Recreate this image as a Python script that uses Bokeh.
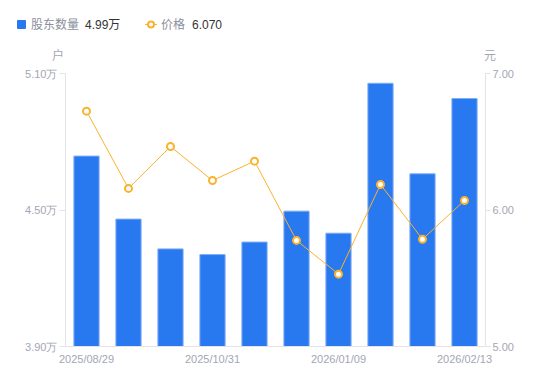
from bokeh.plotting import figure
from bokeh.layouts import column
from bokeh.models import (Range1d, LinearAxis, FixedTicker, CustomJSTickFormatter,
                          Div, ColumnDataSource)
from bokeh.embed import file_html
from bokeh.resources import INLINE

# ---- data ----
dates = ["2025/08/29", "2025/09/19", "2025/09/30", "2025/10/31", "2025/11/20",
         "2025/12/10", "2026/01/09", "2026/01/20", "2026/01/30", "2026/02/13"]
holders = [4.737, 4.460, 4.329, 4.304, 4.359, 4.495, 4.398, 5.057, 4.659, 4.990]  # 万户
price = [6.724, 6.158, 6.465, 6.216, 6.358, 5.777, 5.530, 6.187, 5.786, 6.070]      # 元
shown_idx = [0, 3, 6, 9]
left_ticks = [3.9, 4.5, 5.1]
right_ticks = [5.0, 6.0, 7.0]
series_names = ["股东数量", "价格"]
units = ["户", "元"]

BLUE = "#2878f0"
ORANGE = "#fbb22f"
TICK_COLOR = "#a3a6b5"
AXIS_COLOR = "#e3e4e8"
LEG_GRAY = "#8c8f9c"
FONT = "Liberation Sans"

src = ColumnDataSource(dict(x=list(range(len(dates))), holders=holders, price=price))

p = figure(frame_width=420, frame_height=273,
           x_range=Range1d(-0.5, len(dates) - 0.5),
           y_range=Range1d(left_ticks[0], left_ticks[-1]),
           output_backend="svg", toolbar_location=None,
           min_border_left=65, min_border_right=65, min_border_top=11, min_border_bottom=35)
p.extra_y_ranges = {"price": Range1d(right_ticks[0], right_ticks[-1])}
p.outline_line_color = None
p.xgrid.visible = False
p.ygrid.visible = False
p.background_fill_color = "white"
p.border_fill_color = "white"

p.vbar(x="x", top="holders", bottom=left_ticks[0], width=0.6, source=src,
       fill_color=BLUE, line_color="#80acf6", line_width=1)
p.line(x="x", y="price", source=src, y_range_name="price", line_color=ORANGE, line_width=1)
p.scatter(x="x", y="price", source=src, y_range_name="price", size=7,
          fill_color="white", line_color=ORANGE, line_width=2)

def style_axis(ax):
    ax.axis_line_color = AXIS_COLOR
    ax.major_tick_line_color = AXIS_COLOR
    ax.minor_tick_line_color = None
    ax.major_tick_in = 0
    ax.major_label_text_color = TICK_COLOR
    ax.major_label_text_font = FONT
    ax.major_label_text_font_size = "11px"

# left axis
ly = p.yaxis[0]
style_axis(ly)
ly.ticker = FixedTicker(ticks=left_ticks)
ly.formatter = CustomJSTickFormatter(code="return tick.toFixed(2) + '万'")
ly.major_tick_out = 6
ly.major_label_standoff = 2

# right axis
ry = LinearAxis(y_range_name="price")
style_axis(ry)
ry.ticker = FixedTicker(ticks=right_ticks)
ry.formatter = CustomJSTickFormatter(code="return tick.toFixed(2)")
ry.major_tick_out = 5
ry.major_label_standoff = 2
p.add_layout(ry, "right")

# bottom axis
bx = p.xaxis[0]
style_axis(bx)
bx.ticker = FixedTicker(ticks=shown_idx)
bx.major_label_overrides = {i: dates[i] for i in shown_idx}
bx.major_tick_out = 0
bx.major_label_standoff = 6

# ---- legend & unit header (HTML, real text) ----
ff = "font-family:'Liberation Sans','Noto Sans CJK SC',sans-serif;"
def span(left, top, text, color, size=12):
    return (f'<span style="position:absolute;left:{left}px;top:{top}px;{ff}'
            f'font-size:{size}px;line-height:14px;color:{color};white-space:nowrap">{text}</span>')

icon_line = (f'<svg style="position:absolute;left:145px;top:19px" width="12" height="11">'
             f'<line x1="0" y1="5.5" x2="12" y2="5.5" stroke="{ORANGE}" stroke-width="1"/>'
             f'<circle cx="6" cy="5.5" r="3" fill="white" stroke="{ORANGE}" stroke-width="2"/></svg>')
html = (
    '<div style="position:relative;width:550px;height:62px;background:white">'
    f'<span style="position:absolute;left:17px;top:20px;width:9px;height:9px;'
    f'background:{BLUE};border-radius:1px"></span>'
    + span(31, 17.5, series_names[0], LEG_GRAY)
    + span(85, 17.5, f"{holders[-1]:.2f}万", "#333333")
    + icon_line
    + span(161, 17.5, series_names[1], LEG_GRAY)
    + span(192, 17.5, f"{price[-1]:.3f}", "#333333")
    + span(52, 49, units[0], TICK_COLOR)
    + span(484, 49, units[1], TICK_COLOR)
    + '</div>'
)
header = Div(text=html, width=550, height=62, margin=0)

layout = column(header, p, spacing=0)
open("out.html", "w").write(file_html(layout, INLINE))
